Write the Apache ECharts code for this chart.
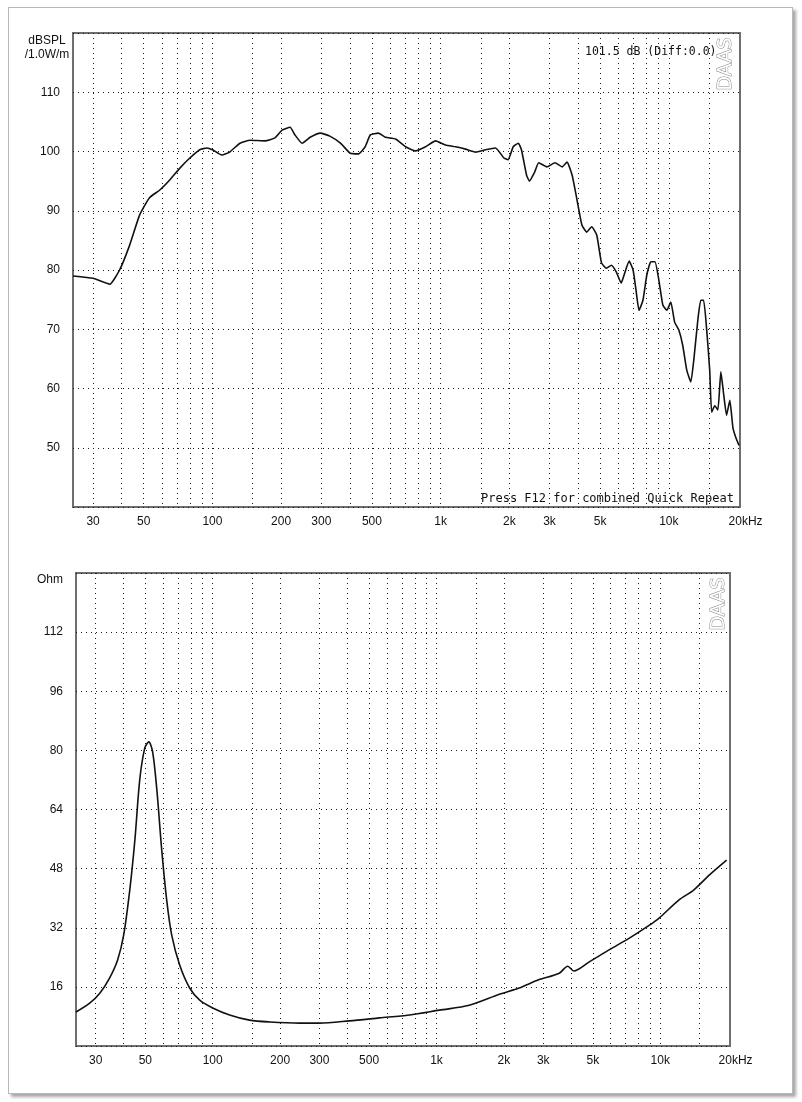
<!DOCTYPE html>
<html><head><meta charset="utf-8">
<script src="https://cdn.jsdelivr.net/npm/echarts@6/dist/echarts.min.js"></script>
<style>
html,body{margin:0;padding:0;background:#fff;}
#frame{position:absolute;left:8px;top:7px;width:783px;height:1085px;border:1px solid #b8b8b8;box-shadow:3px 3px 3px rgba(0,0,0,0.35);background:#fff;}
#chart{position:absolute;left:0;top:0;width:802px;height:1102px;}
</style></head><body>
<div id="frame"></div>
<div id="chart"></div>
<script>
// ---- data ----
const splFreq = [24.5, 30, 35.5, 39.2, 43.4, 48, 53, 58.8, 65, 72, 79.6, 88, 94.6, 100, 110, 119, 132, 146, 170, 188, 202, 219, 230, 247, 268, 297, 327, 364, 402, 437, 467, 492, 534, 574, 635, 702, 777, 859, 950, 1050, 1163, 1286, 1422, 1573, 1740, 1894, 1974, 2080, 2190, 2260, 2380, 2450, 2580, 2690, 2920, 3170, 3410, 3580, 3770, 3960, 4160, 4370, 4590, 4830, 5070, 5330, 5600, 5880, 6180, 6370, 6700, 6970, 7180, 7400, 7700, 8010, 8340, 8690, 9040, 9410, 9800, 10200, 10600, 11050, 11500, 11980, 12480, 12860, 13400, 13800, 14200, 14650, 15100, 15400, 15900, 16400, 16900, 17400, 17900, 18500, 19100, 19700, 20300];
const splDb = [79, 78.6, 77.6, 80, 84.2, 89.3, 92.2, 93.5, 95.2, 97.2, 98.9, 100.3, 100.6, 100.3, 99.4, 99.9, 101.4, 101.9, 101.8, 102.3, 103.6, 104.1, 102.8, 101.4, 102.4, 103.1, 102.6, 101.4, 99.7, 99.6, 100.8, 102.8, 103.1, 102.4, 102.1, 100.8, 100.1, 100.8, 101.8, 101.1, 100.8, 100.4, 99.9, 100.3, 100.6, 98.9, 98.6, 100.8, 101.4, 100.3, 96, 95, 96.5, 98.1, 97.4, 98.1, 97.4, 98.2, 96, 91.8, 87.6, 86.4, 87.3, 85.9, 81.2, 80.3, 80.8, 79.7, 77.8, 79.2, 81.5, 80, 76.6, 73.2, 74.9, 79.2, 81.4, 81.4, 78.3, 74.1, 73.2, 74.6, 71.2, 69.9, 67.3, 63.1, 61.1, 64.8, 71.6, 74.9, 74.9, 69.9, 63.1, 56, 57.1, 56.4, 62.8, 58.9, 55.5, 58, 53.3, 51.6, 50.4];

const impFreq = [24.5, 28.2, 31.3, 34.6, 37.6, 40, 42.6, 44.9, 47.2, 49.7, 51.8, 53.9, 56.3, 59.2, 62.3, 65.6, 71.2, 78.9, 87.5, 100, 119, 146, 180, 245, 300, 408, 556, 757, 1030, 1400, 1910, 2340, 2860, 3540, 3860, 4110, 4800, 5900, 7280, 8950, 9880, 12100, 14100, 16600, 19800];
const impOhm = [9.2, 11.6, 14.3, 18.4, 23.3, 30, 42.2, 55.7, 72, 80.6, 82.3, 79.6, 69.3, 53, 39.5, 30, 21.9, 15.7, 12.4, 10.3, 8.4, 7, 6.5, 6.2, 6.2, 6.8, 7.6, 8.4, 9.7, 11, 14, 15.7, 17.9, 19.7, 21.6, 20.3, 22.7, 26, 29.2, 32.7, 34.6, 39.5, 42.2, 46.3, 50.3];

const gridFreqs = [30, 40, 50, 60, 70, 80, 90, 100, 150, 200, 300, 400, 500, 600, 700, 800, 900, 1000, 1500, 2000, 3000, 4000, 5000, 6000, 7000, 8000, 9000, 10000, 15000];
const freqLabelValues = [30, 50, 100, 200, 300, 500, 1000, 2000, 3000, 5000, 10000, 20000];
const freqLabelTexts = ['30', '50', '100', '200', '300', '500', '1k', '2k', '3k', '5k', '10k', '20kHz'];

const splRange = [40, 120], splStep = 10;
const impRange = [0, 128], impStep = 16;
const freqRange = [24.5, 20500];

// ---- build ----
const lg = Math.log10;
const gridLogs = gridFreqs.map(lg);
const labelLogs = freqLabelValues.map(lg);
const FONT = 'Liberation Sans';
const dotted = { color: '#1a1a1a', width: 1, type: [1, 4] };

function freqFormatter(v) {
  for (let i = 0; i < labelLogs.length; i++) {
    if (Math.abs(labelLogs[i] - v) < 1e-6) {
      const t = freqLabelTexts[i];
      return t.indexOf('Hz') >= 0 ? '{hz|' + t + '}' : t;
    }
  }
  return '';
}

function makeX(gridIndex) {
  return {
    type: 'value', gridIndex: gridIndex,
    min: lg(freqRange[0]), max: lg(freqRange[1]),
    axisLine: { show: false },
    axisTick: { show: false, customValues: gridLogs },
    splitLine: { show: true, lineStyle: dotted },
    axisLabel: {
      customValues: labelLogs, formatter: freqFormatter, margin: 9,
      color: '#111', fontFamily: FONT, fontSize: 12,
      rich: { hz: { padding: [0, 0, 0, 16], color: '#111', fontFamily: FONT, fontSize: 12 } }
    }
  };
}
function makeY(gridIndex, range, step) {
  return {
    type: 'value', gridIndex: gridIndex,
    min: range[0], max: range[1], interval: step,
    axisLine: { show: false }, axisTick: { show: false },
    splitLine: { show: true, lineStyle: dotted },
    axisLabel: {
      margin: 13, color: '#111', fontFamily: FONT, fontSize: 12,
      formatter: v => (v === range[0] || v === range[1]) ? '' : String(v)
    }
  };
}

const chart = echarts.init(document.getElementById('chart'), null, { renderer: 'canvas' });
chart.setOption({
  backgroundColor: 'transparent',
  animation: false,
  grid: [
    { left: 73, right: 62, top: 33, height: 474, show: true, backgroundColor: '#fff', borderColor: '#6e6e6e', borderWidth: 2 },
    { left: 76, right: 72, top: 573, height: 473, show: true, backgroundColor: '#fff', borderColor: '#6e6e6e', borderWidth: 2 }
  ],
  xAxis: [makeX(0), makeX(1)],
  yAxis: [makeY(0, splRange, splStep), makeY(1, impRange, impStep)],
  series: [
    {
      type: 'line', xAxisIndex: 0, yAxisIndex: 0, showSymbol: false, smooth: 0.15,
      lineStyle: { color: '#111', width: 1.6 },
      data: splFreq.map((f, i) => [lg(f), splDb[i]])
    },
    {
      type: 'line', xAxisIndex: 1, yAxisIndex: 1, showSymbol: false, smooth: 0.3,
      lineStyle: { color: '#111', width: 1.6 },
      data: impFreq.map((f, i) => [lg(f), impOhm[i]])
    }
  ],
  graphic: [
    { type: 'text', x: 47, y: 48, style: { text: 'dBSPL\n/1.0W/m', align: 'center', verticalAlign: 'middle', lineHeight: 14, font: '12px ' + FONT, fill: '#111' } },
    { type: 'text', x: 63, y: 580, style: { text: 'Ohm', align: 'right', verticalAlign: 'middle', font: '12px ' + FONT, fill: '#111' } },
    { type: 'text', x: 585, y: 52, style: { text: '101.5 dB (Diff:0.0)', align: 'left', verticalAlign: 'middle', font: '11.5px "DejaVu Sans Mono"', fill: '#111' } },
    { type: 'text', x: 481, y: 499, style: { text: 'Press F12 for combined Quick Repeat', align: 'left', verticalAlign: 'middle', font: '12px "DejaVu Sans Mono"', fill: '#111' } },
    { type: 'text', x: 726, y: 64, rotation: Math.PI / 2, style: { text: 'DAAS', align: 'center', verticalAlign: 'middle', font: '19px "DejaVu Sans"', fill: '#fff', stroke: '#8a8a8a', lineWidth: 1 } },
    { type: 'text', x: 719, y: 604, rotation: Math.PI / 2, style: { text: 'DAAS', align: 'center', verticalAlign: 'middle', font: '19px "DejaVu Sans"', fill: '#fff', stroke: '#8a8a8a', lineWidth: 1 } }
  ]
});
</script>
</body></html>
